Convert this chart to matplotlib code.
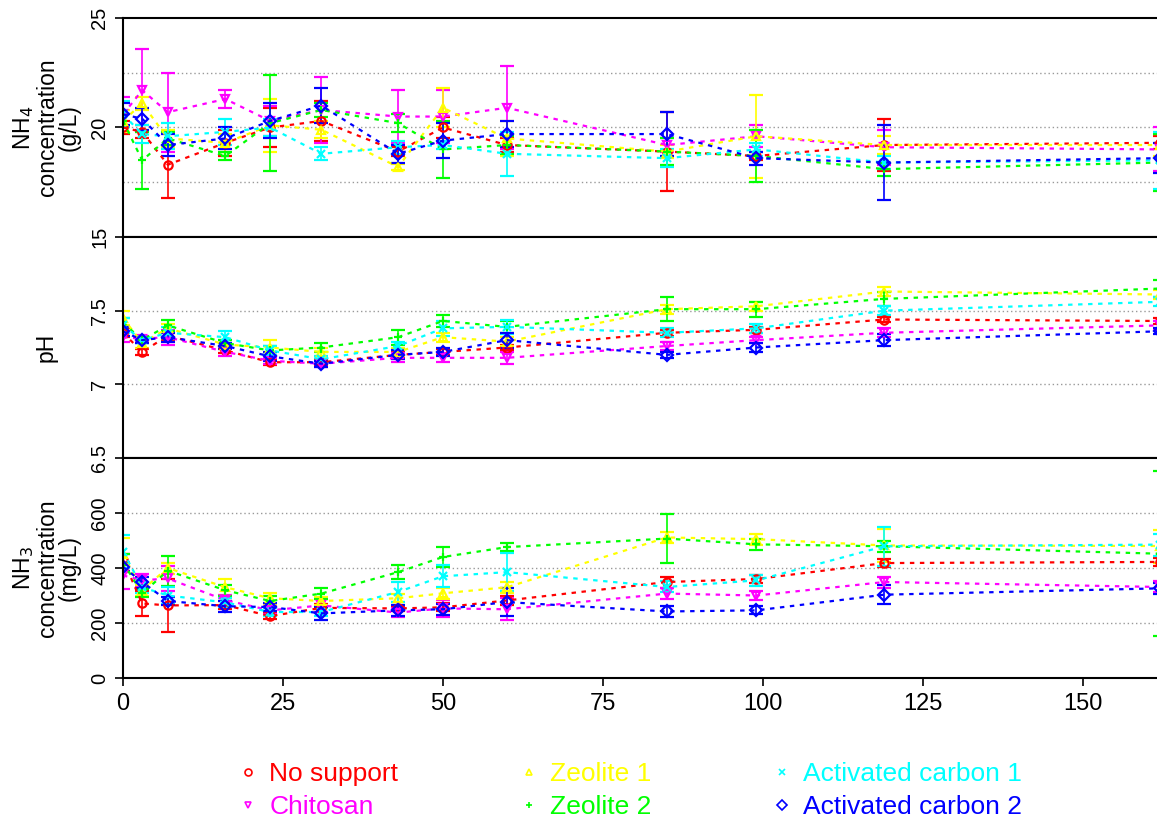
import numpy as np
import matplotlib.pyplot as plt
from matplotlib.lines import Line2D

plt.rcParams['font.family'] = ['Liberation Sans', 'DejaVu Sans']

# sampling times
t = [0, 3, 7, 16, 23, 31, 43, 50, 60, 85, 99, 119, 162]

names = ["No support", "Chitosan", "Zeolite 1", "Zeolite 2", "Activated carbon 1", "Activated carbon 2"]
colors = ["#ff0000", "#ff00ff", "#ffff00", "#00ff00", "#00ffff", "#0000ff"]
markers = ["o", "v", "^", "+", "x", "D"]

# NH4 concentration (g/L)
nh4_nosup = [20.0, 19.8, 18.3, 19.3, 20.0, 20.3, 18.9, 20.0, 19.2, 18.9, 18.7, 19.2, 19.3]
nh4_chit = [20.6, 21.7, 20.7, 21.3, 20.3, 20.8, 20.5, 20.5, 20.9, 19.2, 19.6, 19.1, 19.0]
nh4_zeo1 = [20.3, 21.1, 19.5, 19.3, 20.1, 19.9, 18.2, 20.9, 19.5, 18.9, 19.6, 19.2, 19.2]
nh4_zeo2 = [20.3, 18.5, 19.5, 18.7, 20.2, 20.8, 20.2, 19.0, 19.2, 18.9, 18.7, 18.1, 18.4]
nh4_ac1 = [20.6, 19.7, 19.6, 19.8, 20.0, 18.8, 19.1, 19.2, 18.8, 18.6, 19.0, 18.4, 18.5]
nh4_ac2 = [20.6, 20.4, 19.2, 19.5, 20.3, 21.0, 18.8, 19.4, 19.7, 19.7, 18.6, 18.4, 18.6]
nh4_err_nosup = [0.3, 0.3, 1.5, 0.6, 0.9, 0.9, 0.2, 0.5, 0.3, 1.8, 0.2, 1.2, 0.3]
nh4_err_chit = [0.8, 1.9, 1.8, 0.4, 0.7, 1.5, 1.2, 1.2, 1.9, 0.3, 0.5, 0.8, 1.0]
nh4_err_zeo1 = [0.5, 0.3, 0.4, 0.4, 1.2, 0.4, 0.15, 0.9, 0.8, 0.3, 1.9, 0.4, 0.5]
nh4_err_zeo2 = [0.3, 1.3, 0.3, 0.2, 2.2, 0.3, 0.4, 1.3, 0.4, 0.6, 1.2, 0.3, 1.3]
nh4_err_ac1 = [0.6, 0.4, 0.6, 0.6, 0.4, 0.3, 0.3, 0.2, 1.0, 0.4, 0.3, 0.3, 1.3]
nh4_err_ac2 = [0.5, 0.5, 0.5, 0.5, 0.8, 0.8, 0.4, 0.8, 0.6, 1.0, 0.3, 1.7, 0.7]

# pH
ph_nosup = [7.35, 7.22, 7.33, 7.23, 7.15, 7.15, 7.20, 7.22, 7.25, 7.35, 7.37, 7.44, 7.43]
ph_chit = [7.32, 7.31, 7.32, 7.22, 7.16, 7.14, 7.18, 7.18, 7.18, 7.26, 7.30, 7.35, 7.40]
ph_zeo1 = [7.45, 7.28, 7.38, 7.27, 7.25, 7.22, 7.22, 7.32, 7.29, 7.51, 7.53, 7.63, 7.61]
ph_zeo2 = [7.42, 7.30, 7.40, 7.28, 7.23, 7.25, 7.32, 7.43, 7.39, 7.51, 7.51, 7.58, 7.65]
ph_ac1 = [7.40, 7.30, 7.35, 7.32, 7.23, 7.17, 7.26, 7.38, 7.39, 7.35, 7.38, 7.50, 7.56]
ph_ac2 = [7.36, 7.30, 7.32, 7.26, 7.19, 7.14, 7.20, 7.22, 7.30, 7.20, 7.25, 7.30, 7.36]
ph_err_nosup = [0.03, 0.02, 0.03, 0.02, 0.02, 0.02, 0.02, 0.02, 0.02, 0.02, 0.02, 0.02, 0.02]
ph_err_chit = [0.03, 0.02, 0.05, 0.03, 0.02, 0.02, 0.03, 0.03, 0.04, 0.03, 0.02, 0.03, 0.03]
ph_err_zeo1 = [0.05, 0.03, 0.03, 0.03, 0.05, 0.03, 0.03, 0.03, 0.03, 0.03, 0.03, 0.03, 0.03]
ph_err_zeo2 = [0.03, 0.02, 0.04, 0.02, 0.03, 0.03, 0.05, 0.04, 0.04, 0.08, 0.05, 0.05, 0.06]
ph_err_ac1 = [0.05, 0.02, 0.04, 0.04, 0.03, 0.02, 0.03, 0.05, 0.05, 0.03, 0.03, 0.03, 0.03]
ph_err_ac2 = [0.03, 0.02, 0.03, 0.02, 0.03, 0.02, 0.03, 0.03, 0.05, 0.02, 0.03, 0.04, 0.02]

# NH3 concentration (mg/L)
nh3_nosup = [430, 271, 264, 265, 225, 255, 253, 257, 282, 349, 360, 418, 422]
nh3_chit = [373, 355, 362, 283, 246, 264, 238, 253, 250, 307, 300, 349, 331]
nh3_zeo1 = [450, 320, 400, 330, 290, 280, 290, 308, 330, 511, 505, 482, 480]
nh3_zeo2 = [420, 308, 390, 319, 280, 307, 385, 440, 476, 507, 486, 479, 452]
nh3_ac1 = [460, 330, 300, 275, 240, 240, 313, 370, 385, 331, 355, 479, 485]
nh3_ac2 = [404, 349, 280, 261, 258, 235, 246, 250, 276, 242, 246, 303, 326]
nh3_err_nosup = [20, 45, 95, 15, 10, 15, 10, 15, 15, 20, 15, 15, 15]
nh3_err_chit = [50, 25, 45, 20, 15, 25, 15, 30, 40, 20, 15, 20, 20]
nh3_err_zeo1 = [60, 20, 20, 30, 20, 15, 15, 20, 20, 20, 20, 60, 60]
nh3_err_zeo2 = [30, 15, 55, 20, 20, 20, 25, 35, 15, 90, 20, 20, 300]
nh3_err_ac1 = [60, 20, 30, 15, 15, 15, 35, 40, 70, 20, 20, 70, 40]
nh3_err_ac2 = [15, 20, 15, 20, 15, 25, 20, 20, 50, 20, 15, 35, 20]

nh4 = [nh4_nosup, nh4_chit, nh4_zeo1, nh4_zeo2, nh4_ac1, nh4_ac2]
nh4_err = [nh4_err_nosup, nh4_err_chit, nh4_err_zeo1, nh4_err_zeo2, nh4_err_ac1, nh4_err_ac2]
ph = [ph_nosup, ph_chit, ph_zeo1, ph_zeo2, ph_ac1, ph_ac2]
ph_err = [ph_err_nosup, ph_err_chit, ph_err_zeo1, ph_err_zeo2, ph_err_ac1, ph_err_ac2]
nh3 = [nh3_nosup, nh3_chit, nh3_zeo1, nh3_zeo2, nh3_ac1, nh3_ac2]
nh3_err = [nh3_err_nosup, nh3_err_chit, nh3_err_zeo1, nh3_err_zeo2, nh3_err_ac1, nh3_err_ac2]

W, H = 1157, 818
fig = plt.figure(figsize=(W / 100, H / 100), dpi=100)

left = 123 / W
width = 1 - left
edges = [18, 237, 458, 678]
axes = []
for i in range(3):
    top = 1 - edges[i] / H
    bot = 1 - edges[i + 1] / H
    axes.append(fig.add_axes([left, bot, width, top - bot]))

panels = [
    (nh4, nh4_err, (15, 25), [15, 20, 25], ["15", "20", "25"], [17.5, 20, 22.5],
     "NH$_4$\nconcentration\n(g/L)", -0.041),
    (ph, ph_err, (6.5, 8), [6.5, 7, 7.5], ["6.5", "7", "7.5"], [7, 7.5], "pH", -0.063),
    (nh3, nh3_err, (0, 800), [0, 200, 400, 600], ["0", "200", "400", "600"], [200, 400, 600],
     "NH$_3$\nconcentration\n(mg/L)", -0.041),
]

for k, (ax, (vals, errs, ylim, yt, ytl, grid, lab, labx)) in enumerate(zip(axes, panels)):
    for g in grid:
        ax.axhline(g, color="#999999", ls=(0, (1, 2)), lw=1, zorder=0)
    for j in range(6):
        mfc = "none" if markers[j] not in ("+", "x") else colors[j]
        ax.errorbar(t, vals[j], yerr=errs[j], color=colors[j], ls=(0, (2, 2.5)), lw=1.6,
                    marker=markers[j], ms=6, mfc=mfc, mew=1.6, capsize=5,
                    elinewidth=1.2, capthick=1.2, label=names[j])
    ax.set_xlim(0, 161.6)
    ax.set_ylim(*ylim)
    ax.set_yticks(yt)
    ax.set_yticklabels(ytl, rotation=90, va="center", fontsize=14.5)
    ax.set_ylabel(lab, fontsize=16.5, linespacing=0.95)
    ax.yaxis.set_label_coords(labx, 0.5)
    ax.spines["right"].set_visible(False)
    for s in ["left", "top", "bottom"]:
        ax.spines[s].set_linewidth(1.5)
    ax.tick_params(axis="y", direction="out", length=6, width=1.2, pad=4)
    ax.set_xticks([0, 25, 50, 75, 100, 125, 150])
    if k < 2:
        ax.tick_params(axis="x", bottom=False, labelbottom=False)
    else:
        ax.tick_params(axis="x", direction="out", length=6, width=1.2, labelsize=17, pad=5)

# legend with coloured text
leg_handles = [Line2D([], [], ls="none", marker=markers[j], color=colors[j], mfc="none",
                      ms=5, mew=1.2) for j in range(6)]
leg = fig.legend(leg_handles, names, loc="upper left", bbox_to_anchor=(239 / W, 1 - 762 / H),
                 ncol=3, frameon=False, fontsize=19, handlelength=0.7, handletextpad=0.45,
                 columnspacing=4.6, labelspacing=0.35, borderpad=0, borderaxespad=0)
for txt, c in zip(leg.get_texts(), colors):
    txt.set_color(c)

fig.savefig("out.png", dpi=100)
